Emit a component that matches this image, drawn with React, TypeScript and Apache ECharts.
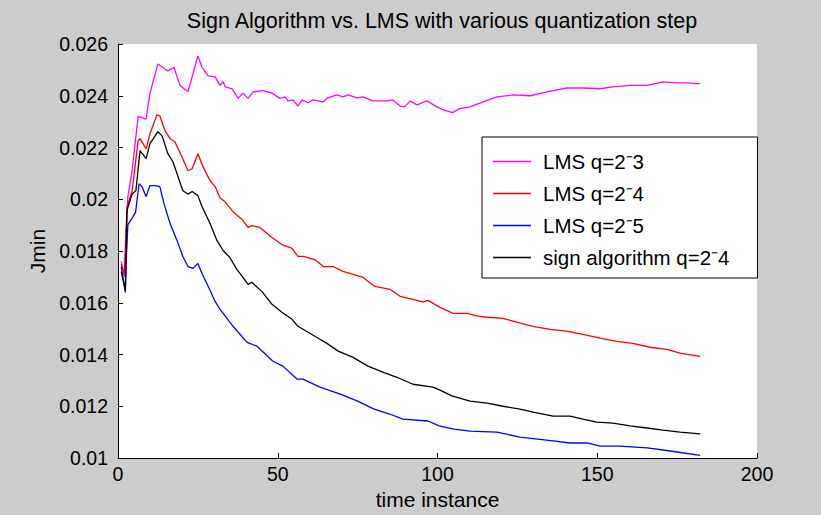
import React, { useEffect, useRef } from "react";
import * as echarts from "echarts";

const FONT = "'Liberation Sans', Arial, sans-serif";

const titleText = "Sign Algorithm vs. LMS with various quantization step";
const xAxisName = "time instance";
const yAxisName = "Jmin";
const seriesNames = ["LMS q=2⁻3", "LMS q=2⁻4", "LMS q=2⁻5", "sign algorithm q=2⁻4"];
const seriesColors = ["#ff00ff", "#ff0000", "#0000ff", "#000000"];

const magentaX = [1, 2, 3.1, 4.4, 6.3, 8.8, 10, 12.5, 15.6, 17.5, 19.4, 21.9, 25, 26.3, 28.2, 30.4, 31.9, 32.9, 33.6, 35.7, 37.6, 39.1, 40.7, 42.3, 45.4, 48.2, 50.7, 52.3, 53.2, 54.8, 56.3, 57.6, 59.5, 61, 64.2, 65.7, 68.5, 70.4, 72, 74.8, 76.7, 79.8, 82, 84.2, 86, 88.3, 89.8, 91.4, 93.6, 96.7, 99.8, 101.7, 104.7, 107, 110.2, 114.2, 118.6, 123.6, 129, 134.3, 140.5, 145.5, 150.9, 154.9, 160.3, 165.6, 170.6, 175, 178, 182.2];
const magentaY = [0.0176, 0.017, 0.0201, 0.0211, 0.0232, 0.0231, 0.0241, 0.02523, 0.02496, 0.0251, 0.0244, 0.02415, 0.02554, 0.0251, 0.02477, 0.02473, 0.0244, 0.02454, 0.02434, 0.02427, 0.0239, 0.0241, 0.0239, 0.02415, 0.0242, 0.0241, 0.0239, 0.02396, 0.0238, 0.02384, 0.0236, 0.02384, 0.02373, 0.02384, 0.02376, 0.02392, 0.02403, 0.02396, 0.02403, 0.02392, 0.02396, 0.0238, 0.0238, 0.0238, 0.02384, 0.0236, 0.02357, 0.0238, 0.02365, 0.0238, 0.02357, 0.02346, 0.02335, 0.0235, 0.02357, 0.02376, 0.02396, 0.02403, 0.024, 0.02415, 0.0243, 0.0243, 0.02427, 0.02434, 0.0244, 0.0244, 0.02454, 0.0245, 0.0245, 0.02446];

const redX = [1, 2, 2.8, 4.4, 6.3, 6.9, 8.8, 10, 12.2, 13.1, 14.7, 16.3, 17.8, 20, 21.9, 23.2, 25, 26.6, 28.8, 30.4, 31.9, 33.5, 36, 38.8, 40.7, 41.9, 44.4, 48.2, 51.3, 54.5, 56.3, 57.9, 61.7, 64.2, 67.3, 70.4, 73.6, 76.7, 80.4, 85.1, 88.3, 92.3, 95.5, 97, 100.8, 104.9, 109.2, 112.7, 115.5, 120.5, 124.9, 129.9, 135.2, 140.5, 145.5, 150.9, 156.2, 161.2, 166.5, 171.8, 175.9, 182.2];
const redY = [0.0175, 0.0171, 0.0197, 0.0203, 0.02226, 0.02234, 0.02195, 0.02253, 0.02326, 0.02322, 0.02265, 0.02234, 0.02222, 0.02164, 0.0211, 0.02118, 0.02176, 0.02126, 0.02072, 0.02049, 0.02006, 0.0199, 0.01952, 0.01922, 0.01891, 0.01898, 0.01891, 0.01852, 0.01825, 0.0181, 0.01779, 0.01779, 0.01767, 0.0174, 0.0174, 0.01721, 0.0171, 0.01698, 0.01663, 0.01652, 0.01625, 0.01613, 0.01602, 0.01609, 0.01582, 0.01559, 0.01559, 0.01548, 0.01544, 0.0154, 0.01524, 0.01509, 0.01497, 0.0149, 0.01478, 0.01463, 0.01451, 0.01443, 0.01428, 0.0142, 0.01405, 0.01393];

const blueX = [1, 2.3, 2.6, 3.1, 4.7, 5.5, 6.6, 7.5, 8.8, 10, 11.6, 13.1, 14.4, 16.3, 18.5, 20.3, 21.9, 23.5, 25, 26.3, 28.8, 30.4, 31.9, 36, 40.4, 43.5, 48.5, 51.6, 56, 57.9, 63.2, 70, 75, 80, 85, 89.2, 97, 100.5, 105.2, 110.2, 118.6, 125.8, 136.2, 141.5, 146.8, 150.9, 157, 165.6, 172.8, 182.2];
const blueY = [0.0174, 0.0164, 0.0177, 0.01902, 0.01933, 0.0195, 0.0206, 0.02049, 0.0201, 0.02053, 0.02053, 0.02049, 0.01983, 0.01906, 0.0184, 0.01779, 0.0174, 0.01733, 0.01752, 0.01713, 0.01648, 0.01605, 0.01575, 0.01509, 0.01447, 0.01432, 0.01374, 0.01355, 0.01305, 0.01305, 0.01274, 0.01245, 0.0122, 0.0119, 0.0117, 0.0115, 0.01143, 0.01124, 0.01112, 0.01104, 0.011, 0.01081, 0.01066, 0.01058, 0.01058, 0.01046, 0.01046, 0.01039, 0.01027, 0.0101];

const blackX = [1, 2.3, 2.8, 4.4, 5.6, 6.9, 8.8, 10, 12.5, 13.8, 15.6, 17.2, 18.8, 20.3, 21.9, 23.2, 25, 26.3, 28.8, 31, 32.9, 35, 37.2, 39.1, 40.7, 41.9, 45, 48.2, 51.3, 54.5, 56.3, 59.5, 63.2, 65.4, 68.9, 73.6, 78.2, 82.9, 87.3, 92.3, 98.6, 100.8, 104.5, 110.2, 115.5, 120.5, 125.8, 129.9, 136.2, 141.5, 145.5, 149.9, 154.9, 160.3, 165.6, 170.6, 175.9, 182.2];
const blackY = [0.0172, 0.0165, 0.01956, 0.0202, 0.02033, 0.02188, 0.02157, 0.02215, 0.02261, 0.02245, 0.02176, 0.02145, 0.02087, 0.02033, 0.0202, 0.0203, 0.02014, 0.01972, 0.01906, 0.0184, 0.01802, 0.01775, 0.01729, 0.01698, 0.01671, 0.01679, 0.01644, 0.01594, 0.01563, 0.01536, 0.01509, 0.01486, 0.01459, 0.01443, 0.01413, 0.01389, 0.01355, 0.01332, 0.01312, 0.01285, 0.01274, 0.01262, 0.0124, 0.0122, 0.01212, 0.012, 0.01189, 0.01177, 0.01162, 0.01162, 0.0115, 0.01139, 0.01135, 0.01124, 0.01116, 0.01108, 0.011, 0.01093];

const seriesXs = [magentaX, redX, blueX, blackX];
const seriesYs = [magentaY, redY, blueY, blackY];

export default function App() {
  const ref = useRef<HTMLDivElement>(null);
  useEffect(() => {
    if (!ref.current) return;
    const chart = echarts.init(ref.current, null, { renderer: "svg" });
    const axisCommon = {
      axisLine: { show: true, onZero: false, lineStyle: { color: "#000", width: 1 } },
      axisTick: { show: true, inside: true, length: 5, lineStyle: { color: "#000", width: 1 } },
      splitLine: { show: false },
      axisLabel: { color: "#000", fontSize: 19.5, fontFamily: FONT },
      nameLocation: "middle" as const,
      nameTextStyle: { color: "#000", fontSize: 21, fontFamily: FONT },
    };
    chart.setOption({
      animation: false,
      backgroundColor: "#cccccc",
      title: {
        text: titleText,
        left: 437,
        top: 5,
        textAlign: "center",
        textStyle: { color: "#000", fontSize: 21.5, fontWeight: "normal", fontFamily: FONT },
      },
      grid: { left: 118, right: 64, top: 44, bottom: 56, show: true, backgroundColor: "#ffffff", borderWidth: 0 },
      xAxis: {
        type: "value",
        min: 0,
        max: 200,
        interval: 50,
        name: xAxisName,
        nameGap: 31,
        ...axisCommon,
        axisLabel: { ...axisCommon.axisLabel, margin: 6 },
      },
      yAxis: {
        type: "value",
        min: 0.01,
        max: 0.026,
        interval: 0.002,
        name: yAxisName,
        nameGap: 63,
        ...axisCommon,
        axisLabel: {
          ...axisCommon.axisLabel,
          margin: 10,
          formatter: (v: number) => String(parseFloat(v.toFixed(4))),
        },
      },
      legend: {
        orient: "vertical",
        left: 482,
        top: 137,
        backgroundColor: "#ffffff",
        borderColor: "#000",
        borderWidth: 1,
        borderRadius: 0,
        padding: [14, 28, 10, 11],
        icon: "rect",
        itemWidth: 38,
        itemHeight: 1.5,
        itemGap: 11,
        textStyle: { color: "#000", fontSize: 20.5, fontFamily: FONT, padding: [0, 0, 0, 7] },
        data: seriesNames,
      },
      series: seriesNames.map((name, i) => ({
        name,
        type: "line",
        symbol: "none",
        color: seriesColors[i],
        lineStyle: { width: 1.3, color: seriesColors[i] },
        data: seriesXs[i].map((x, j) => [x, seriesYs[i][j]]),
      })),
    });
    return () => chart.dispose();
  }, []);
  return <div ref={ref} style={{ position: "fixed", left: 0, top: 0, width: 821, height: 515 }} />;
}
